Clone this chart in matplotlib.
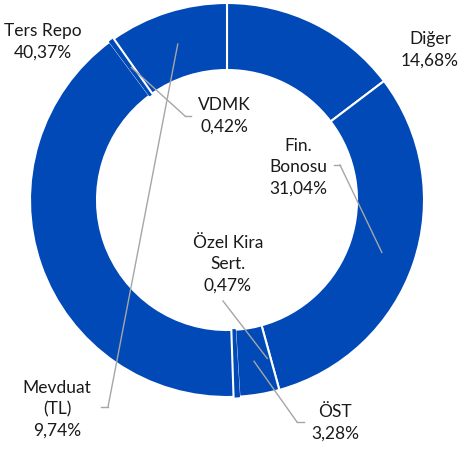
import numpy as np
import matplotlib.pyplot as plt

# data (clockwise from 12 o'clock)
categories = ['Diğer', 'Fin.\nBonosu', 'ÖST', 'Özel Kira\nSert.', 'Ters Repo', 'VDMK', 'Mevduat\n(TL)']
shares = [14.68, 31.04, 3.28, 0.47, 40.37, 0.42, 9.74]
pct_labels = ['14,68%', '31,04%', '3,28%', '0,47%', '40,37%', '0,42%', '9,74%']

plt.rcParams['font.family'] = ['Lato', 'DejaVu Sans']

W, H = 458, 450
fig = plt.figure(figsize=(W / 100, H / 100), dpi=100)
ax = fig.add_axes([0, 0, 1, 1])
ax.set_aspect('equal')
ax.axis('off')

cx, cy = 227, H - 200
R, ring = 197, 67
blue = '#0049B7'

wedges, _ = ax.pie(shares, startangle=90, counterclock=False, center=(cx, cy), radius=R,
                   colors=[blue] * len(shares),
                   wedgeprops=dict(width=ring, edgecolor='white', linewidth=1.5))
# the very thin slices show up as a single white line in the original
for w, s in zip(wedges, shares):
    if s < 1:
        w.set_edgecolor(blue)
        w.set_linewidth(1.0)
        w.set_joinstyle('bevel')
ax.set_xlim(0, W)
ax.set_ylim(0, H)

# label centre (pixel coords, y from top), leader elbow, length of short horizontal tick
label_pos = {
    'Diğer': (430, 50, None, 0),
    'Fin.\nBonosu': (298, 167, (340, 165), -6),
    'ÖST': (335, 423, (297, 422), 7),
    'Özel Kira\nSert.': (228, 264, (223, 301), 0),
    'Ters Repo': (43, 42, None, 0),
    'VDMK': (224, 116, (185, 116), 6),
    'Mevduat\n(TL)': (57, 409, (108, 407), -7),
}
# angular nudge where the chart's leader does not hit the slice middle
anchor_shift = {'Özel Kira\nSert.': 11.5}
grey = '#A6A6A6'

for w, cat, pct in zip(wedges, categories, pct_labels):
    x, y, elbow, tick = label_pos[cat]
    ax.text(x, H - y, cat + '\n' + pct, ha='center', va='center', fontsize=12.5,
            color='#1a1a1a', linespacing=1.4)
    if elbow is not None:
        ang = np.deg2rad((w.theta1 + w.theta2) / 2 + anchor_shift.get(cat, 0))
        r = R - ring / 2
        ex, ey = elbow
        ax.plot([ex, cx + r * np.cos(ang)], [H - ey, cy + r * np.sin(ang)],
                color=grey, lw=1, zorder=5)
        if tick:
            ax.plot([ex, ex + tick], [H - ey, H - ey], color=grey, lw=1, zorder=5)

fig.savefig('out.png', dpi=100)
